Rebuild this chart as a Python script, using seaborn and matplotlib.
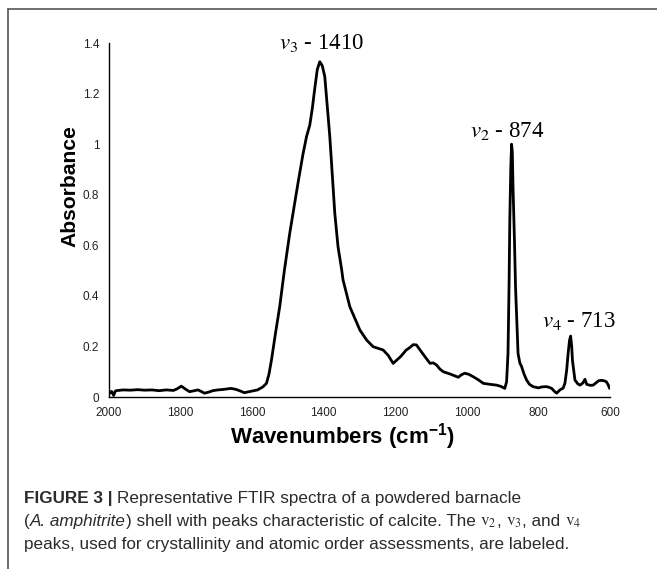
import numpy as np
import pandas as pd
import matplotlib
matplotlib.use("Agg")
import matplotlib.pyplot as plt
import seaborn as sns

# ---------------- data ----------------
wavenumber = [2000, 1998, 1993, 1987, 1983, 1980, 1960, 1940, 1920, 1900, 1880, 1860,
              1840, 1820, 1810, 1798, 1785, 1775, 1762, 1751, 1740, 1733, 1720, 1710,
              1696, 1680, 1670, 1659, 1645, 1630, 1622, 1605, 1585, 1570, 1560, 1553,
              1546, 1535, 1523, 1510, 1495, 1483, 1472, 1458, 1448, 1439, 1432, 1425,
              1418, 1411, 1404, 1397, 1390, 1383, 1374, 1369, 1360, 1350, 1346, 1327,
              1299, 1280, 1262, 1234, 1220, 1206, 1185, 1170, 1159, 1150, 1141, 1120,
              1103, 1094, 1085, 1075, 1066, 1045, 1024, 1015, 1006, 995, 982, 968,
              954, 935, 917, 905, 894, 889, 885, 882, 880, 877, 875, 873, 871, 867,
              864, 860, 857, 852, 847, 840, 833, 825, 815, 800, 790, 777, 770, 763,
              755, 749, 740, 731, 726, 721, 717, 713, 710, 707, 705, 700, 698, 690,
              684, 676, 670, 665, 655, 647, 640, 632, 624, 616, 610, 605, 601]
absorbance = [0.020, 0.015, 0.022, 0.006, 0.022, 0.025, 0.028, 0.027, 0.029, 0.027, 0.028, 0.025,
              0.028, 0.026, 0.032, 0.043, 0.030, 0.021, 0.025, 0.028, 0.020, 0.015, 0.020, 0.025,
              0.028, 0.030, 0.032, 0.034, 0.030, 0.022, 0.017, 0.022, 0.028, 0.040, 0.054, 0.090,
              0.146, 0.250, 0.357, 0.500, 0.647, 0.750, 0.845, 0.960, 1.030, 1.075, 1.140, 1.220,
              1.295, 1.326, 1.310, 1.267, 1.150, 1.030, 0.832, 0.726, 0.594, 0.505, 0.463, 0.357,
              0.265, 0.225, 0.199, 0.186, 0.165, 0.133, 0.160, 0.185, 0.196, 0.207, 0.206, 0.165,
              0.133, 0.135, 0.127, 0.110, 0.100, 0.090, 0.078, 0.088, 0.094, 0.090, 0.080, 0.068,
              0.054, 0.050, 0.047, 0.042, 0.034, 0.060, 0.173, 0.450, 0.700, 0.920, 1.000, 0.970, 0.830, 0.620,
              0.436, 0.280, 0.173, 0.135, 0.120, 0.090, 0.067, 0.050, 0.041, 0.036, 0.040, 0.041, 0.038, 0.034,
              0.022, 0.015, 0.028, 0.035, 0.054, 0.107, 0.173, 0.225, 0.241, 0.200, 0.146, 0.090, 0.067, 0.052,
              0.047, 0.055, 0.070, 0.050, 0.046, 0.047, 0.055, 0.064, 0.066, 0.064, 0.060, 0.048, 0.034]

x_ticks = [2000, 1800, 1600, 1400, 1200, 1000, 800, 600]
x_tick_labels = ["2000", "1800", "1600", "1400", "1200", "1000", "800", "600"]
y_ticks = [0, 0.2, 0.4, 0.6, 0.8, 1.0, 1.2, 1.4]
y_tick_labels = ["0", "0.2", "0.4", "0.6", "0.8", "1", "1.2", "1.4"]

peak_labels = [r"$v_3$ - 1410", r"$v_2$ - 874", r"$v_4$ - 713"]
peak_label_pos = [(1405, 1.375), (887, 1.03), (688, 0.277)]  # label anchor (wavenumber, absorbance)

# ---------------- style ----------------
sns.set_theme(style="white")
plt.rcParams["font.family"] = ["Liberation Sans", "DejaVu Sans"]
plt.rcParams["mathtext.fontset"] = "stix"

W, H = 657, 569
fig = plt.figure(figsize=(W / 100, H / 100), dpi=100)
ax = fig.add_axes([109 / W, 1 - 397 / H, (610 - 109) / W, (397 - 43) / H])

df = pd.DataFrame({"Wavenumber": wavenumber, "Absorbance": absorbance})
sns.lineplot(data=df, x="Wavenumber", y="Absorbance", ax=ax, color="black",
             linewidth=2.0, sort=False)

ax.set_xlim(2000, 600)
ax.set_ylim(0, 1.4)
ax.set_xticks(x_ticks)
ax.set_xticklabels(x_tick_labels)
ax.set_yticks(y_ticks)
ax.set_yticklabels(y_tick_labels)
ax.tick_params(axis="both", length=0, labelsize=8.5, colors="#222222")
ax.tick_params(axis="x", pad=7)
ax.tick_params(axis="y", pad=7)
for s in ["top", "right"]:
    ax.spines[s].set_visible(False)
for s in ["left", "bottom"]:
    ax.spines[s].set_color("black")
    ax.spines[s].set_linewidth(1.0)
ax.set_xlabel("")
ax.set_ylabel("")

fig.text(343 / W, 1 - 437 / H, r"Wavenumbers (cm$^{\mathregular{-1}}$)", ha="center", va="center",
         fontsize=16, fontweight="bold", color="black")
fig.text(70 / W, 1 - 186 / H, "Absorbance", ha="center", va="center", rotation=90,
         fontsize=15.2, fontweight="bold", color="black")

for lab, (xw, ya) in zip(peak_labels, peak_label_pos):
    ax.text(xw, ya, lab, ha="center", va="baseline", fontsize=16.5,
            family="Liberation Serif", color="black", clip_on=False)

# ---------------- frame ----------------
fig.add_artist(plt.Line2D([8 / W, 1.0], [1 - 8.5 / H, 1 - 8.5 / H], color="#555555", lw=1.2))
fig.add_artist(plt.Line2D([8 / W, 8 / W], [0, 1 - 8.5 / H], color="#555555", lw=1.2))

# ---------------- caption ----------------
cap_color = "#2b2b2b"
cap_size = 12.3
fig.canvas.draw()
renderer = fig.canvas.get_renderer()


def chain(pieces, x0, y0):
    x = x0
    for txt, kw in pieces:
        t = fig.text(x / W, 1 - y0 / H, txt, ha="left", va="baseline",
                     fontsize=cap_size, color=cap_color, **kw)
        bb = t.get_window_extent(renderer=renderer)
        x = bb.x1


chain([("FIGURE 3 | ", {"fontweight": "bold"}),
       ("Representative FTIR spectra of a powdered barnacle", {})], 24, 503)
chain([("(", {}), ("A. amphitrite", {"style": "italic"}),
       (") shell with peaks characteristic of calcite. The ", {}),
       (r"$\mathrm{v}_2$", {}), (", ", {}), (r"$\mathrm{v}_3$", {}), (", and ", {}),
       (r"$\mathrm{v}_4$", {})], 24, 526)
chain([("peaks, used for crystallinity and atomic order assessments, are labeled.", {})], 24, 549)

fig.savefig("out.png", dpi=100)
